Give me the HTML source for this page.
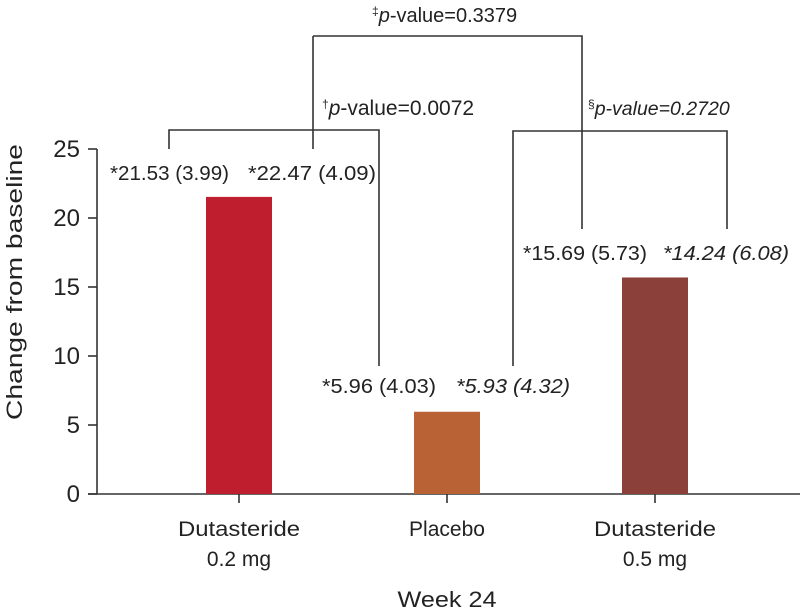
<!DOCTYPE html>
<html><head><meta charset="utf-8"><style>
html,body{margin:0;padding:0;background:#fff;}
svg{display:block;font-family:"Liberation Sans",sans-serif;}
</style></head><body>
<svg id="chart" width="800" height="612" viewBox="0 0 800 612">
<g id="axes"></g>
<g id="bars"></g>
<g id="brackets" stroke="#333" stroke-width="1.6" fill="none">
<polyline points="169,149 169,130 379,130 379,366"/>
<line x1="313" y1="36" x2="313" y2="149"/>
<polyline points="513,366 513,131 727,131 727,229"/>
<polyline points="313,36 582,36 582,229"/>
</g>
<g font-size="20.5" fill="#222">
<text x="372" y="22" font-size="20"><tspan font-size="12" dy="-7">‡</tspan><tspan font-style="italic" dy="7">p</tspan>-value=0.3379</text>
<text x="322" y="115" font-size="21"><tspan font-size="12" dy="-7">†</tspan><tspan font-style="italic" dy="7">p</tspan>-value=0.0072</text>
<text x="588" y="115" font-size="19.5" font-style="italic"><tspan font-size="12" dy="-7" font-style="normal">§</tspan><tspan dy="7">p-value=0.2720</tspan></text>
<text x="110" y="180" textLength="119" lengthAdjust="spacingAndGlyphs">*21.53 (3.99)</text>
<text x="248" y="180" textLength="128" lengthAdjust="spacingAndGlyphs">*22.47 (4.09)</text>
<text x="322" y="393" textLength="114" lengthAdjust="spacingAndGlyphs">*5.96 (4.03)</text>
<text x="456" y="393" font-style="italic" textLength="114" lengthAdjust="spacingAndGlyphs">*5.93 (4.32)</text>
<text x="523" y="260" textLength="124" lengthAdjust="spacingAndGlyphs">*15.69 (5.73)</text>
<text x="663" y="260" font-style="italic" textLength="126" lengthAdjust="spacingAndGlyphs">*14.24 (6.08)</text>
</g>
<text x="0" y="0" transform="translate(22,282) rotate(-90)" text-anchor="middle" font-size="22" fill="#222" textLength="276" lengthAdjust="spacingAndGlyphs">Change from baseline</text>
<text x="447" y="607" text-anchor="middle" font-size="22" fill="#222" textLength="99" lengthAdjust="spacingAndGlyphs">Week 24</text>
</svg>
<script>
const categories = ["Dutasteride|0.2 mg", "Placebo", "Dutasteride|0.5 mg"];
const values = [21.53, 5.96, 15.69];
const colors = ["#BE1E2D", "#B86235", "#8B4139"];
const yTicks = [0, 5, 10, 15, 20, 25];
const NS = "http://www.w3.org/2000/svg";
const y0 = 494, y25 = 149;
function yScale(v){ return y0 - (v / 25) * (y0 - y25); }
function xCenter(i){ return 239 + i * 208; }
const barW = 66;
const axes = document.getElementById('axes');
const bars = document.getElementById('bars');
function mk(tag, attrs, parent){ const e = document.createElementNS(NS, tag); for (const k in attrs) e.setAttribute(k, attrs[k]); parent.appendChild(e); return e; }
let yl = mk('line', {x1:97, y1:yScale(25), x2:97, y2:y0, stroke:'#333','stroke-width':1.6}, axes);


let xl = mk('line', {x1:88, y1:y0, x2:800, y2:y0, stroke:'#333','stroke-width':1.6}, axes);


yTicks.forEach(t => {
  const y = yScale(t);
  const tk = mk('line', {x1:88, y1:y, x2:97, y2:y, stroke:'#333','stroke-width':1.6}, axes);
  
  
  const tx = mk('text', {x:80, y:y+8, 'text-anchor':'end', 'font-size':24, fill:'#222'}, axes);
  tx.textContent = t;
  
  
});
categories.forEach((c, i) => {
  const cx = xCenter(i);
  const r = mk('rect', {x:cx - barW/2, y:yScale(values[i]), width:barW, height:y0 - yScale(values[i]), fill:colors[i]}, bars);
  
  
  const tk = mk('line', {x1:cx, y1:y0, x2:cx, y2:y0+9, stroke:'#333','stroke-width':1.6}, axes);
  
  
  c.split('|').forEach((ln, j) => {
    const attrs = {x:cx, y:536 + j*30, 'text-anchor':'middle', 'font-size':21, fill:'#222'};
    if (ln === 'Dutasteride') { attrs.textLength = 122; attrs.lengthAdjust = 'spacingAndGlyphs'; }
    const tx = mk('text', attrs, axes);
    tx.textContent = ln;
    
    
  });
});
</script>
</body></html>
